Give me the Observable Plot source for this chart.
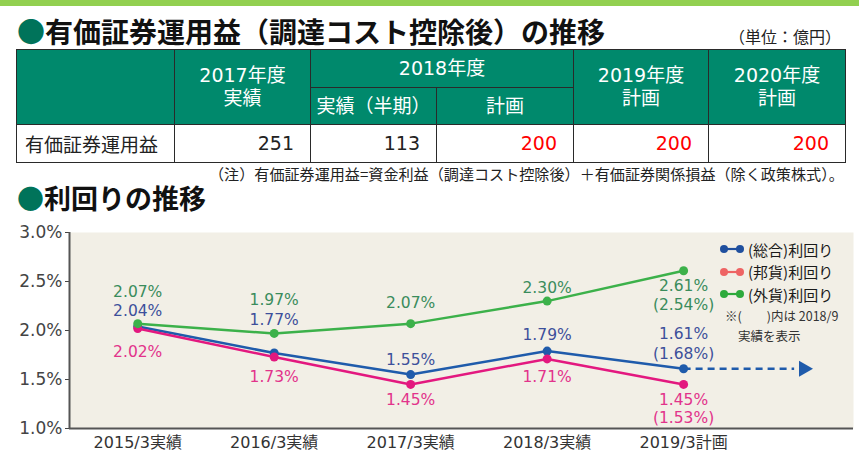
<!DOCTYPE html>
<html><head><meta charset="utf-8">
<script src="https://cdn.jsdelivr.net/npm/d3@7"></script>
<script src="https://cdn.jsdelivr.net/npm/@observablehq/plot@0.6"></script>
<style>
body{margin:0;background:#fff;}
#page{position:relative;width:859px;height:453px;overflow:hidden;font-family:"DejaVu Sans","Noto Sans CJK JP",sans-serif;color:#222;}
.topbar{position:absolute;left:0;top:0;width:859px;height:6px;background:#92d050;}
.title{position:absolute;left:17px;font-family:"Noto Sans CJK JP",sans-serif;font-weight:700;font-size:27px;line-height:1;color:#111;white-space:nowrap;}
.title .dot{color:#00735a;}
.unit{position:absolute;left:729px;top:28px;font-family:"Noto Sans CJK JP",sans-serif;font-size:16px;line-height:1;color:#222;white-space:nowrap;}
#tbl{position:absolute;left:16px;top:49px;border-collapse:collapse;table-layout:fixed;width:830px;}
#tbl th,#tbl td{border:1.5px solid #2a2a2a;padding:0;font-size:19px;line-height:23px;}
#tbl th{background:#00896c;color:#fff;font-weight:400;text-align:center;}
#tbl td{background:#fff;text-align:right;padding-right:16px;}
#tbl td.lab{text-align:left;padding-left:8px;padding-right:0;font-family:"Noto Sans CJK JP",sans-serif;}
.note{position:absolute;left:209px;top:166px;font-family:"Noto Sans CJK JP",sans-serif;font-size:15.1px;line-height:1;color:#222;white-space:nowrap;}
#chart{position:absolute;left:0;top:215px;}
.legend{position:absolute;left:720px;top:238px;font-family:"Noto Sans CJK JP",sans-serif;font-size:15px;color:#1a1a1a;}
.legend .row{height:22.5px;display:flex;align-items:center;white-space:nowrap;}
.legend svg{margin-right:3px;}
.cnote{position:absolute;left:725px;font-family:"Noto Sans CJK JP",sans-serif;font-size:12.5px;line-height:1;color:#333;white-space:nowrap;}
</style></head>
<body><div id="page">
<div class="topbar"></div>
<div class="title" style="top:17px;font-size:28px"><span class="dot">●</span>有価証券運用益（調達コスト控除後）の推移</div>
<div class="unit">（単位：億円）</div>
<table id="tbl"></table>
<div class="note">（注）有価証券運用益=資金利益（調達コスト控除後）＋有価証券関係損益（除く政策株式）。</div>
<div class="title" style="top:184px"><span class="dot">●</span>利回りの推移</div>
<div id="chart"></div>
<div class="legend" id="legend"></div>
<div class="cnote" style="top:310px">※(　　)内は 2018/9</div>
<div class="cnote" style="top:330px;left:738px">実績を表示</div>
</div>
<script>
// ---- table data ----
const tableGroups = ["2017年度", "2018年度", "2019年度", "2020年度"];
const tableSubs = [["実績"], ["実績（半期）", "計画"], ["計画"], ["計画"]];
const tableRowLabel = "有価証券運用益";
const tableValues = [251, 113, 200, 200, 200];

// ---- chart data ----
const periods = ["2015/3実績", "2016/3実績", "2017/3実績", "2018/3実績", "2019/3計画"];
const totalYield = [2.04, 1.77, 1.55, 1.79, 1.61];
const yenYield = [2.02, 1.73, 1.45, 1.71, 1.45];
const foreignYield = [2.07, 1.97, 2.07, 2.30, 2.61];
const halfYear2018_9 = {total: 1.68, yen: 1.53, foreign: 2.54};
const seriesNames = {total: "(総合)利回り", yen: "(邦貨)利回り", foreign: "(外貨)利回り"};
const yTicks = [1.0, 1.5, 2.0, 2.5, 3.0];

// ---- build table ----
const tbl = document.getElementById("tbl");
const widths = [158, 136, 126, 137, 135, 137];
let html = "<colgroup>" + widths.map(w => `<col style="width:${w}px">`).join("") + "</colgroup>";
html += `<tr style="height:38px"><th rowspan="2"></th>`;
tableGroups.forEach((g, i) => {
  if (tableSubs[i].length > 1) html += `<th colspan="${tableSubs[i].length}">${g}</th>`;
  else html += `<th rowspan="2">${g}<br>${tableSubs[i][0]}</th>`;
});
html += `</tr><tr style="height:37px">`;
tableGroups.forEach((g, i) => {
  if (tableSubs[i].length > 1) tableSubs[i].forEach(s => html += `<th>${s}</th>`);
});
html += `</tr><tr style="height:38px"><td class="lab">${tableRowLabel}</td>`;
const subFlat = tableSubs.flat();
tableValues.forEach((v, i) => {
  html += `<td style="color:${subFlat[i] === "計画" ? "#ff0000" : "#222"}">${v}</td>`;
});
html += "</tr>";
tbl.innerHTML = html;

// ---- chart ----
const colors = {total: "#1f5bab", yen: "#e3187f", foreign: "#3cb14a"};
const labelColors = {total: "#3d4f9b", yen: "#e2338b", foreign: "#3a8c5c"};
const legendColors = {total: "#1f4f9e", yen: "#ee6464", foreign: "#2eaa3c"};
const seriesValues = {total: totalYield, yen: yenYield, foreign: foreignYield};
const keys = ["total", "yen", "foreign"];
const rows = keys.flatMap(k => seriesValues[k].map((v, i) => ({x: i, y: v, key: k})));
const labelDy = {foreign: [-32, -33, -21, -13, 15], total: [-16, -33, -15, -16, -35], yen: [23, 20, 16, 18, 16]};
const parenDy = {foreign: 34, total: -15, yen: 34};
const last = periods.length - 1;

const labelMarks = [];
keys.forEach(k => {
  seriesValues[k].forEach((v, i) => {
    labelMarks.push(Plot.text([{x: i, y: v}], {x: "x", y: "y", text: () => v.toFixed(2) + "%", dy: labelDy[k][i], fill: labelColors[k], fontSize: 15.5}));
  });
  labelMarks.push(Plot.text([{x: last, y: seriesValues[k][last]}], {x: "x", y: "y", text: () => "(" + halfYear2018_9[k].toFixed(2) + "%)", dy: parenDy[k], fill: labelColors[k], fontSize: 15.5}));
});

const arrowEnd = last + 0.81, arrowTip = last + 0.88;

const chart = Plot.plot({
  width: 859, height: 238,
  marginLeft: 69, marginRight: 6, marginTop: 17, marginBottom: 25,
  style: {fontFamily: "DejaVu Sans, Noto Sans CJK JP, sans-serif", background: "transparent", overflow: "visible"},
  x: {type: "linear", domain: [-0.5, 5.245]},
  y: {domain: [1, 3]},
  marks: [
    Plot.frame({fill: "#f2efe6", stroke: "none"}),
    Plot.axisY({ticks: yTicks, tickFormat: d => d.toFixed(1) + "%", tickSize: 4, tickPadding: 3, fontSize: 17, color: "#444", label: null}),
    Plot.axisX({ticks: periods.map((_, i) => i), tickFormat: i => periods[i], tickSize: 0, tickPadding: 8, fontSize: 16, color: "#333", label: null}),
    Plot.ruleX([-0.5], {stroke: "#555", strokeWidth: 2}),
    Plot.ruleY([1], {stroke: "#555", strokeWidth: 2}),
    Plot.link([{x1: last, x2: arrowEnd, y: totalYield[last]}], {x1: "x1", x2: "x2", y1: "y", y2: "y", stroke: colors.total, strokeWidth: 2.5, strokeDasharray: "7,5"}),
    Plot.dot([{x: arrowTip, y: totalYield[last]}], {x: "x", y: "y", symbol: "triangle", r: 6, rotate: 90, fill: colors.total, stroke: "none"}),
    Plot.line(rows, {x: "x", y: "y", z: "key", stroke: d => colors[d.key], strokeWidth: 2.5}),
    Plot.dot(rows, {x: "x", y: "y", fill: d => colors[d.key], r: 4.5, stroke: "none"}),
    ...labelMarks
  ]
});
document.getElementById("chart").append(chart);

// ---- legend ----
const lg = document.getElementById("legend");
keys.forEach(k => {
  const c = legendColors[k];
  lg.insertAdjacentHTML("beforeend", `<div class="row"><svg width="25" height="10"><line x1="4" x2="20" y1="5" y2="5" stroke="${c}" stroke-width="2.2"/><circle cx="4" cy="5" r="4" fill="${c}"/><circle cx="20" cy="5" r="4" fill="${c}"/></svg>${seriesNames[k]}</div>`);
});
</script>
</body></html>
